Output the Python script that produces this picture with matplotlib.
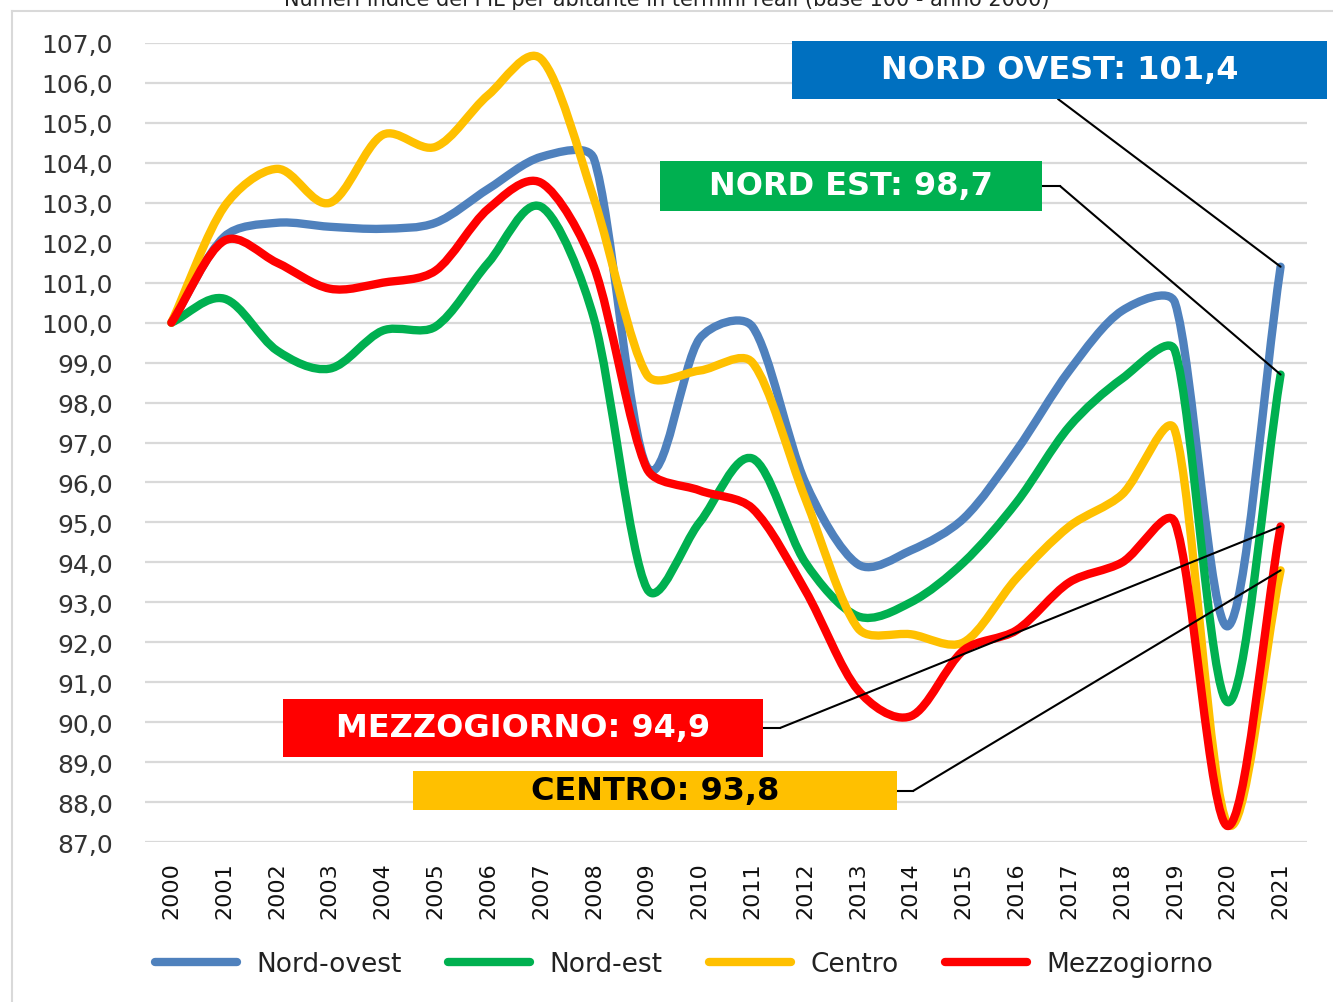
import numpy as np
import matplotlib
matplotlib.use("Agg")
import matplotlib.pyplot as plt
from matplotlib.path import Path
from matplotlib.patches import PathPatch, Rectangle, ConnectionPatch
from matplotlib.lines import Line2D

years = list(range(2000, 2022))

nord_ovest = [100.0, 102.15, 102.5, 102.4, 102.35, 102.5, 103.35, 104.15, 104.1, 96.4, 99.6,
              99.9, 96.0, 93.95, 94.3, 95.1, 96.8, 98.8, 100.3, 100.5, 92.4, 101.4]
nord_est = [100.0, 100.6, 99.3, 98.85, 99.8, 99.9, 101.5, 102.9, 100.1, 93.35, 95.0,
            96.6, 94.0, 92.65, 93.0, 94.0, 95.5, 97.4, 98.6, 99.3, 90.5, 98.7]
centro = [100.0, 102.9, 103.85, 103.0, 104.7, 104.4, 105.7, 106.6, 103.1, 98.7, 98.8,
          99.0, 95.6, 92.35, 92.2, 92.0, 93.6, 94.9, 95.7, 97.3, 87.45, 93.8]
mezzogiorno = [100.0, 102.05, 101.5, 100.85, 101.0, 101.3, 102.85, 103.5, 101.4, 96.35, 95.8,
               95.35, 93.3, 90.8, 90.15, 91.8, 92.3, 93.5, 94.0, 95.0, 87.4, 94.9]

series_names = ["Nord-ovest", "Nord-est", "Centro", "Mezzogiorno"]
series_vals = [nord_ovest, nord_est, centro, mezzogiorno]
colors = ["#4F81BD", "#00B050", "#FFC000", "#FF0000"]

# callout text for the 2021 value of each series (same order as series_names)
labels = ["NORD OVEST: 101,4", "NORD EST: 98,7", "CENTRO: 93,8", "MEZZOGIORNO: 94,9"]

W, H = 1333, 1003
fig = plt.figure(figsize=(W / 100, H / 100), dpi=100)
ax = fig.add_axes([145 / W, 1 - 843 / H, 1162 / W, 799 / H])

XS, YS = 52.86, 40.0  # px per year / per point, to smooth in screen-like space


def smooth_path(x, y, k=0.32):
    # excel-like smoothed line: catmull-rom bezier, arms capped by segment length
    x = np.asarray(x, float)
    y = np.asarray(y, float)
    P = np.column_stack([x * XS, y * YS])
    n = len(P)
    T = np.zeros_like(P)
    for i in range(n):
        a = P[max(i - 1, 0)]
        b = P[min(i + 1, n - 1)]
        T[i] = (b - a) / 6.0 if 0 < i < n - 1 else (b - a) / 3.0
    verts = [tuple(P[0])]
    codes = [Path.MOVETO]
    for i in range(n - 1):
        L = np.hypot(*(P[i + 1] - P[i])) * k
        t1, t2 = T[i], T[i + 1]
        n1, n2 = np.hypot(*t1), np.hypot(*t2)
        if n1 > L:
            t1 = t1 * L / n1
        if n2 > L:
            t2 = t2 * L / n2
        verts += [tuple(P[i] + t1), tuple(P[i + 1] - t2), tuple(P[i + 1])]
        codes += [Path.CURVE4] * 3
    verts = [(vx / XS, vy / YS) for vx, vy in verts]
    return Path(verts, codes)


handles = []
for name, vals, c in zip(series_names, series_vals, colors):
    ax.add_patch(PathPatch(smooth_path(years, vals), fill=False, edgecolor=c,
                           lw=6, capstyle="round", joinstyle="round", zorder=3))
    handles.append(Line2D([], [], color=c, lw=6, solid_capstyle="round"))

ax.set_xlim(1999.5, 2021.5)
ax.set_ylim(87, 107)
yt = np.arange(87, 108, 1)
ax.set_yticks(yt)
ax.set_yticklabels([f"{v:.1f}".replace(".", ",") for v in yt], fontsize=18, color="#333333")
ax.set_xticks(years)
ax.set_xticklabels([str(y) for y in years], rotation=90, fontsize=16, color="#111111")
ax.tick_params(axis="both", length=0)
ax.tick_params(axis="x", pad=14)
ax.tick_params(axis="y", pad=23)
ax.grid(axis="y", color="#D9D9D9", lw=1.6, zorder=0)
ax.set_axisbelow(True)
for s in ax.spines.values():
    s.set_visible(False)

# title, cut at the top edge like the source image
fig.text(0.5, 1.0, "Numeri indice del PIL per abitante in termini reali (base 100 - anno 2000)",
         ha="center", va="center", fontsize=15, color="#222222")

# outer frame (left and top)
fig.add_artist(Line2D([12 / W, 12 / W], [0, 1 - 12 / H], transform=fig.transFigure,
                      color="#D9D9D9", lw=1.5))
fig.add_artist(Line2D([12 / W, 1], [1 - 12 / H, 1 - 12 / H], transform=fig.transFigure,
                      color="#D9D9D9", lw=1.5))

# box l, t, r, b (px from top-left), text colour, box colour, elbow, line start
boxes = [
    (792, 42, 1327, 100, "white", "#0070C0", None, (1058, 100)),
    (660, 162, 1042, 212, "white", "#00B050", (1060, 187), (1042, 187)),
    (413, 772, 897, 811, "black", "#FFC000", (913, 792), (897, 792)),
    (283, 700, 763, 758, "white", "#FF0000", (780, 729), (763, 729)),
]
last_vals = [v[-1] for v in series_vals]
for lab, (l, t, r, b, tc, bc, elbow, start), val in zip(labels, boxes, last_vals):
    fig.add_artist(Rectangle((l / W, 1 - b / H), (r - l) / W, (b - t) / H,
                             transform=fig.transFigure, facecolor=bc, edgecolor="none", zorder=5))
    fig.text((l + r) / 2 / W, 1 - (t + b) / 2 / H, lab, ha="center", va="center",
             fontsize=23, fontweight="bold", color=tc, zorder=6)
    p0 = (start[0] / W, 1 - start[1] / H)
    if elbow is not None:
        p1 = (elbow[0] / W, 1 - elbow[1] / H)
        fig.add_artist(Line2D([p0[0], p1[0]], [p0[1], p1[1]], transform=fig.transFigure,
                              color="black", lw=1.5, zorder=4))
        p0 = p1
    fig.add_artist(ConnectionPatch(xyA=p0, coordsA=fig.transFigure, xyB=(years[-1], val),
                                   coordsB=ax.transData, color="black", lw=1.5, zorder=4))

fig.legend(handles, series_names, loc="center", bbox_to_anchor=(684 / W, 1 - 965 / H),
           ncol=4, frameon=False, fontsize=19, handlelength=3.1, handletextpad=0.75,
           columnspacing=1.75, labelcolor="#222222")

fig.savefig("out.png", dpi=100)
